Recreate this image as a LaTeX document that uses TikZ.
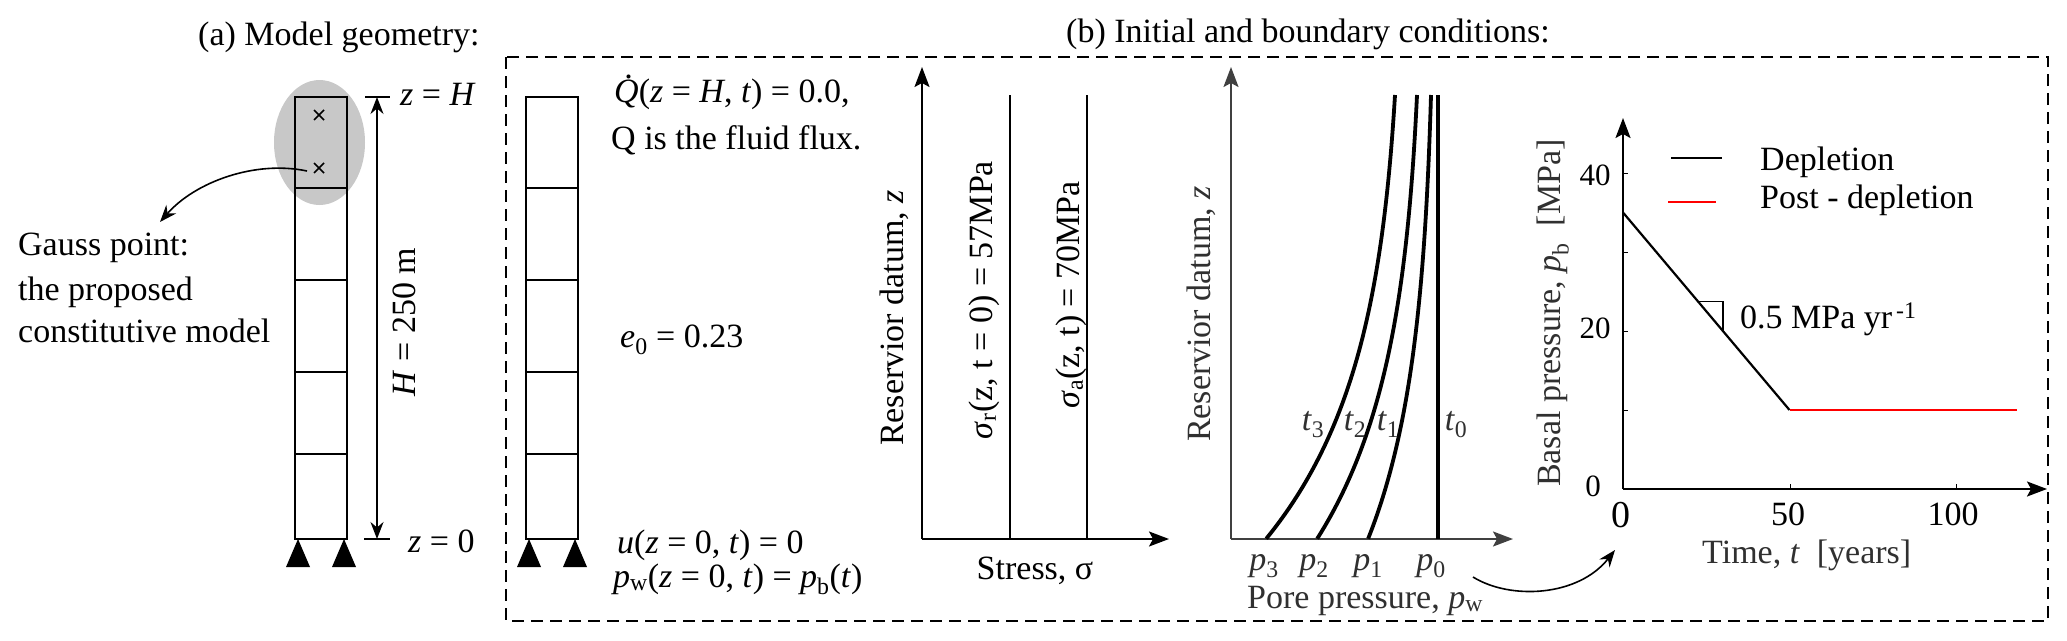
\documentclass[tikz,border=0pt]{standalone}
\usepackage{fontspec}
\setmainfont{Liberation Serif}
\usetikzlibrary{arrows.meta}
\newcommand\fs{\fontsize{34}{40}\selectfont}
\newcommand\Qdot{\rlap{\hspace{0.3em}\raisebox{0.68em}{.}}\textit{Q}}
\definecolor{axgray}{HTML}{404040}
\definecolor{txgray}{HTML}{303030}
\definecolor{ellgray}{HTML}{C8C8C8}
\begin{document}
\begin{tikzpicture}[x=1pt,y=-1pt,
 txt/.style={inner sep=0pt,font=\fs},
 ticktxt/.style={inner sep=0pt,font=\fontsize{31}{36}\selectfont},
 bigtxt/.style={inner sep=0pt,font=\fontsize{38}{44}\selectfont},
 colbox/.style={line width=2.7pt},
 cellline/.style={line width=1.8pt},
 axis/.style={line width=2pt,-{Stealth[length=20pt,width=15pt,inset=4pt]}},
 gaxis/.style={axis,draw=axgray},
 curve/.style={line width=3.8pt},
 plotline/.style={line width=2.2pt},
 dimline/.style={line width=1.6pt,{Stealth[length=17pt,width=13pt]}-{Stealth[length=17pt,width=13pt]}},
 bendarrow/.style={line width=1.6pt,-{Stealth[length=17pt,width=13pt]}},
 frame/.style={line width=1.8pt,dash pattern=on 12pt off 7pt},
]
\useasboundingbox (0,0) rectangle (2067,640);

% ---------- (a) model geometry ----------
\node[txt,anchor=base west] (titleA) at (198,45) {(a) Model geometry:};
\fill[ellgray] (319.5,142.5) ellipse [x radius=45.5pt, y radius=62.5pt];
\draw[colbox] (295,97) rectangle (347,539);
\foreach \yy in {188,280,372,454} \draw[cellline] (295,\yy) -- (347,\yy);
\draw[line width=1.6pt] (314,110)--(324,120) (314,120)--(324,110);
\draw[line width=1.6pt] (314,163)--(324,173) (314,173)--(324,163);
\fill (298,539) -- (310,567) -- (286,567) -- cycle;
\fill (344,539) -- (356,567) -- (332,567) -- cycle;
% dimension
\coordinate (dimtop) at (377,97);
\coordinate (dimbot) at (377,539);
\draw[line width=1.5pt] (365,97) -- (390,97) (364,539) -- (390,539);
\draw[dimline] (dimtop) -- (dimbot);
\node[txt,anchor=base west] (zH) at (400,105) {\textit{z} = \textit{H}};
\node[txt,anchor=base west] (z0) at (408,552) {\textit{z} = 0};
\node[txt,rotate=90] (Hlab) at (404,322) {\textit{H} = 250 m};
% gauss point
\node[txt,anchor=base west] (gauss1) at (18,255) {Gauss point:};
\node[txt,anchor=base west] (gauss2) at (18,300) {the proposed};
\node[txt,anchor=base west] (gauss3) at (18,342) {constitutive model};
\coordinate (gp) at (307,171);
\coordinate (gend) at (160,222);
\draw[bendarrow] (gp) .. controls (255,160) and (195,182) .. (gend);

% ---------- (b) frame ----------
\node[txt,anchor=base west] (titleB) at (1066,42) {(b) Initial and boundary conditions:};
\draw[frame] (506,57) rectangle (2048,621);

% second column
\draw[colbox] (526,97) rectangle (578,539);
\foreach \yy in {188,280,372,454} \draw[cellline] (526,\yy) -- (578,\yy);
\fill (529,539) -- (541,567) -- (517,567) -- cycle;
\fill (575,539) -- (587,567) -- (563,567) -- cycle;
\node[txt,anchor=base west] (bc1) at (614,102) {\Qdot(\textit{z} = \textit{H}, \textit{t}) = 0.0,};
\node[txt,anchor=base west] (bc2) at (611,149) {Q is the fluid flux.};
\node[txt,anchor=base west] (e0) at (620,347) {\textit{e}\textsubscript{0} = 0.23};
\node[txt,anchor=base west] (bc3) at (617,553) {\textit{u}(\textit{z} = 0, \textit{t}) = 0};
\node[txt,anchor=base west] (bc4) at (613,587) {\textit{p}\textsubscript{w}(\textit{z} = 0, \textit{t}) = \textit{p}\textsubscript{b}(\textit{t})};

% chart 1: stress
\coordinate (c1o) at (922,539);
\draw[axis] (c1o) -- (922,67);
\draw[axis] (c1o) -- (1169,539);
\draw[plotline] (1010,95) -- (1010,539);
\draw[plotline] (1087,95) -- (1087,539);
\node[txt,rotate=90] (c1ylab) at (894,318) {Reservior datum, \textit{z}};
\node[txt,rotate=90] (sigr) at (984,300) {\textit{σ}\textsubscript{r}(z, t = 0) = 57MPa};
\node[txt,rotate=90] (siga) at (1071,295) {\textit{σ}\textsubscript{a}(z, t) = 70MPa};
\node[txt,anchor=base] (c1xlab) at (1035,579) {Stress, σ};

% chart 2: pore pressure
\coordinate (c2o) at (1231,539);
\draw[gaxis] (c2o) -- (1231,67);
\draw[gaxis] (c2o) -- (1513,539);
\draw[curve] (1438,95) -- (1438,539);
\draw[curve] plot[domain=0:1,samples=60,smooth] ({1431-63*(exp(2.6*\x)-1)/(exp(2.6)-1)},{95+444*\x});
\draw[curve] plot[domain=0:1,samples=60,smooth] ({1417-100*(exp(2.6*\x)-1)/(exp(2.6)-1)},{95+444*\x});
\draw[curve] plot[domain=0:1,samples=60,smooth] ({1395-129*(exp(2.6*\x)-1)/(exp(2.6)-1)},{95+444*\x});
\node[txt,rotate=90,text=txgray] (c2ylab) at (1201,314) {Reservior datum, \textit{z}};
\node[txt,anchor=base,text=txgray] (t3) at (1313,430) {\textit{t}\textsubscript{3}};
\node[txt,anchor=base,text=txgray] (t2) at (1355,430) {\textit{t}\textsubscript{2}};
\node[txt,anchor=base,text=txgray] (t1) at (1388,430) {\textit{t}\textsubscript{1}};
\node[txt,anchor=base,text=txgray] (t0) at (1456,430) {\textit{t}\textsubscript{0}};
\node[txt,anchor=base,text=txgray] (p3) at (1264,570) {\textit{p}\textsubscript{3}};
\node[txt,anchor=base,text=txgray] (p2) at (1314,570) {\textit{p}\textsubscript{2}};
\node[txt,anchor=base,text=txgray] (p1) at (1368,570) {\textit{p}\textsubscript{1}};
\node[txt,anchor=base,text=txgray] (p0) at (1431,570) {\textit{p}\textsubscript{0}};
\node[txt,anchor=base west,text=txgray] (c2xlab) at (1247,608) {Pore pressure, \textit{p}\textsubscript{w}};
\coordinate (lnkA) at (1473,577);
\coordinate (lnkB) at (1615,550);
\draw[bendarrow] (lnkA) .. controls (1510,600) and (1578,597) .. (lnkB);

% chart 3: basal pressure
\coordinate (c3o) at (1623,489);
\draw[axis] (c3o) -- (1623,118);
\draw[axis] (c3o) -- (2047,489);
\foreach \yy in {173,252,331,410} \draw[line width=1pt] (1623,\yy) -- (1628,\yy);
\foreach \xx in {1790,1956} \draw[line width=1pt] (\xx,489) -- (\xx,484);
\node[ticktxt] (y40) at (1595,175) {40};
\node[ticktxt] (y20) at (1595,328) {20};
\node[ticktxt] (y0) at (1593,486) {0};
\node[bigtxt] (x0) at (1621,515) {0};
\node[txt] (x50) at (1788,514) {50};
\node[txt] (x100) at (1953,514) {100};
\node[txt,rotate=90,text=txgray] (c3ylab) at (1553,313) {Basal pressure, \textit{p}\textsubscript{b}\ \ [MPa]};
\node[txt,anchor=base west,text=txgray] (c3xlab) at (1702,563) {Time, \textit{t}\ \ [years]};
\coordinate (dstart) at (1623,212.5);
\coordinate (dend) at (1789.5,410);
\coordinate (pend) at (2017,410);
\draw[plotline] (dstart) -- (dend);
\draw[plotline,red] (dend) -- (pend);
\draw[line width=1.6pt] (1698,301.5) -- (1723,301.5) -- (1723,331);
\node[txt,anchor=base west] (slope) at (1740,328) {0.5 MPa yr\textsuperscript{\,-1}};
\draw[plotline] (1671,158) -- (1722,158);
\draw[plotline,red] (1668,202) -- (1716,202);
\node[txt,anchor=base west] (leg1) at (1760,170) {Depletion};
\node[txt,anchor=base west] (leg2) at (1760,208) {Post - depletion};
\end{tikzpicture}
\end{document}
